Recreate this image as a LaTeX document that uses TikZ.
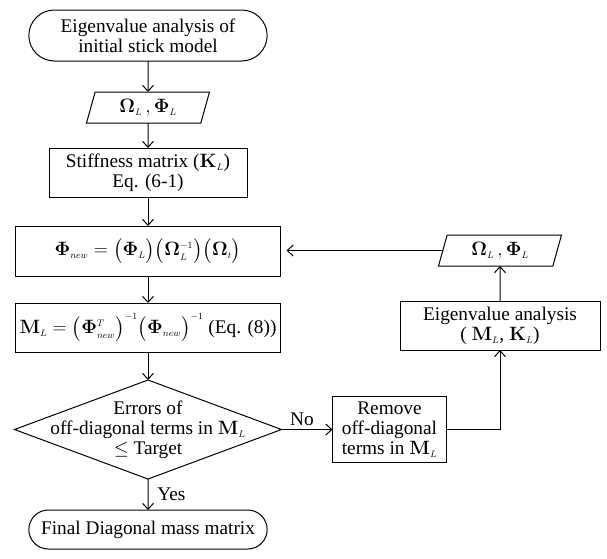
\RequirePackage{fix-cm}
\documentclass[tikz,border=0pt]{standalone}
\usepackage{amsmath}
\usepackage[no-math]{fontspec}
\setmainfont{Liberation Serif}
\DeclareMathSizes{19.3}{19.3}{9.5}{7}
\usetikzlibrary{arrows.meta,positioning,shapes.geometric,shapes.misc}

\begin{document}
\begin{tikzpicture}[x=1pt,y=-1pt,line width=1pt,
font=\fontsize{19.3}{20}\selectfont,
every node/.style={outer sep=0pt},
term/.style={draw,rounded rectangle,minimum width=245pt,align=center},
io/.style={draw,trapezium,trapezium left angle=63,trapezium right angle=117,
trapezium stretches body,minimum width=123pt,minimum height=31pt,inner sep=0pt},
box/.style={draw,rectangle,align=center,inner sep=2pt},
cond/.style={draw,diamond,aspect=2.7,inner xsep=-60pt,inner ysep=0pt,
minimum width=267pt,minimum height=99pt,align=center},
arr/.style={-{Straight Barb[length=6pt,width=11pt]}}]
\useasboundingbox (0,0) rectangle (607,558);
% main column
\node[term,minimum height=51pt] (start) at (148,35.5)
{Eigenvalue analysis of\\initial stick model};
\node[io,below=31pt of start] (in1) {$\mathbf{\Omega}_L\,,\mathbf{\Phi}_L$};
\node[box,below=25pt of in1,minimum width=198pt,minimum height=49pt] (stiff)
{Stiffness matrix ($\mathbf{K}_L$)\\Eq. (6-1)};
\node[box,below=29pt of stiff,minimum width=265pt,minimum height=50pt] (phinew)
{$\mathbf{\Phi}_{new}=\big(\mathbf{\Phi}_L\big)\big(\mathbf{\Omega}_L^{-1}\big)\big(\mathbf{\Omega}_t\big)$};
\node[box,below=27pt of phinew,minimum width=265pt,minimum height=49pt] (mass)
{$\mathbf{M}_L=\big(\mathbf{\Phi}^T_{new}\big)^{-1}\big(\mathbf{\Phi}_{new}\big)^{-1}$ (Eq. (8))};
\node[cond,below=28pt of mass] (check)
{Errors of\\off-diagonal terms in $\mathbf{M}_L$\\$\leq$ Target};
\node[term,below=31pt of check,minimum height=39pt] (final) {Final Diagonal mass matrix};
% loop on the right
\node[box,right=51pt of check,minimum width=114pt,minimum height=66pt] (remove)
{Remove\\off-diagonal\\terms in $\mathbf{M}_L$};
\node[box,minimum width=200pt,minimum height=49pt] (eigen) at (500,325.5)
{Eigenvalue analysis\\( $\mathbf{M}_L$, $\mathbf{K}_L$)};
\node[io,above=35pt of eigen] (in2) {$\mathbf{\Omega}_L\,,\mathbf{\Phi}_L$};

\draw[arr] (start) -- (in1);
\draw[arr] (in1) -- (stiff);
\draw[arr] (stiff) -- (phinew);
\draw[arr] (phinew) -- (mass);
\draw[arr] (mass) -- (check);
\draw[arr] (check) -- node[right=6pt] {Yes} (final);
\draw[arr] (check) -- node[above,pos=0.4] {No} (remove);
\draw[arr] (remove.east) -| (eigen.south);
\draw[arr] (eigen) -- (in2);
\draw[arr,shorten >=6pt] (in2.west) -- (in2.west -| phinew.east);
\end{tikzpicture}
\end{document}
